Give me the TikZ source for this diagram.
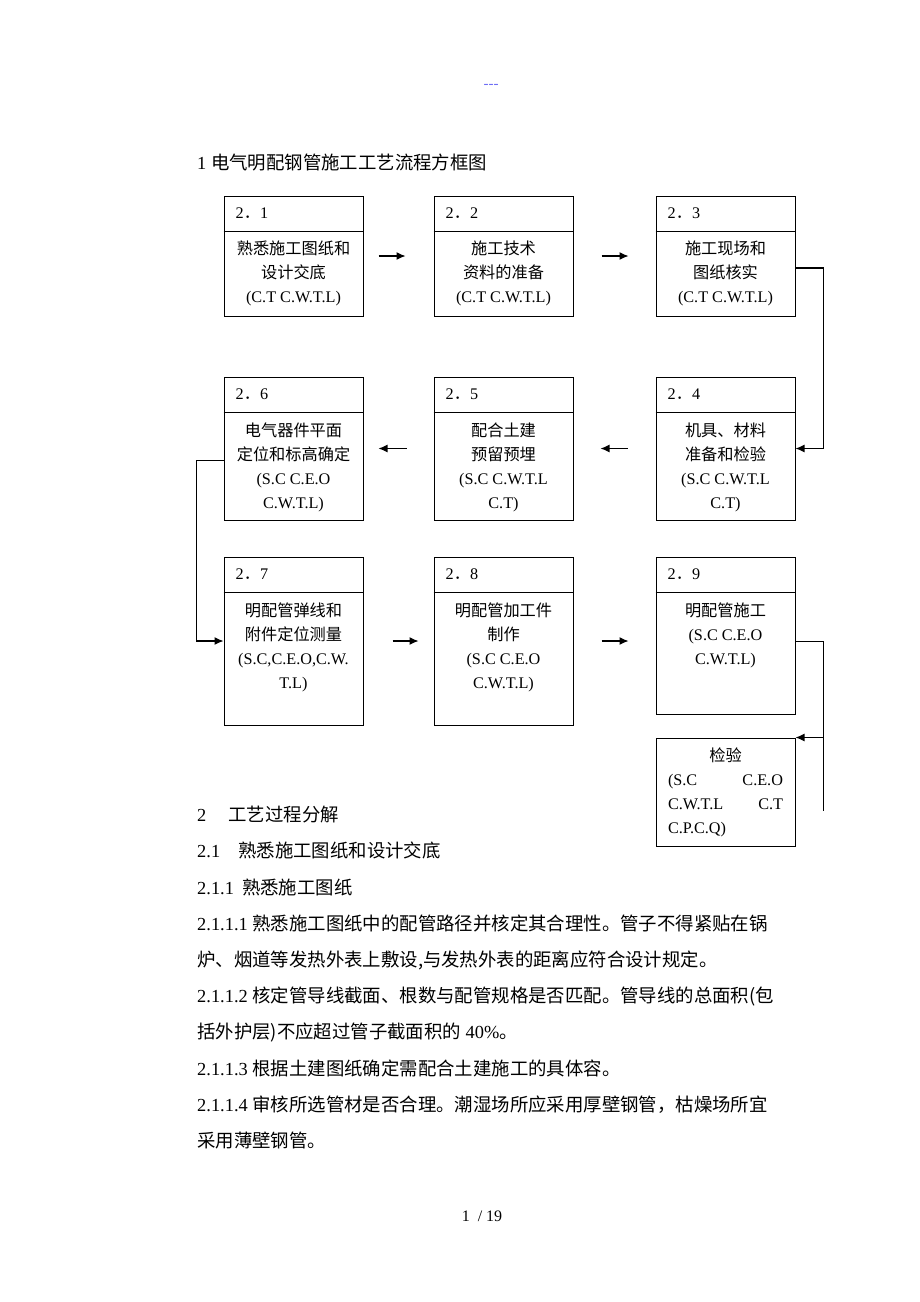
\documentclass[tikz,border=0pt]{standalone}
\usepackage{fontspec}
\setmainfont{Liberation Serif}
\newfontfamily\cjk{Noto Sans CJK SC}
\newcommand{\zh}[1]{{\cjk #1}}
\setlength{\parindent}{0pt}
\usetikzlibrary{arrows.meta}
\definecolor{hdblue}{RGB}{110,110,245}

\tikzset{
  box/.style={draw, line width=1pt, minimum width=139pt, inner sep=0pt},
  hd/.style={anchor=west, inner sep=0pt, font=\fontsize{16.2}{24}\selectfont},
  txt/.style={anchor=north, inner sep=0pt, align=center, font=\fontsize{16.2}{24}\selectfont},
  arr/.style={-{Latex[length=9pt,width=8pt]}, line width=1.2pt},
}

\begin{document}
\begin{tikzpicture}[x=1pt, y=-1pt]
\useasboundingbox (0,0) rectangle (920,1302);

\node[text=hdblue, font=\fontsize{15}{16}\selectfont] (hdr) at (491,86) {-{}-{}-};
\node[anchor=west, inner sep=0pt, font=\fontsize{18.4}{22}\selectfont] (title) at (197,163) {1 \zh{电气明配钢管施工工艺流程方框图}};

% first row
\node[box, minimum height=120pt] (b21) at (293.5,256) {};
\node[box, minimum height=120pt] (b22) at (503.5,256) {};
\node[box, minimum height=120pt] (b23) at (725.5,256) {};
% second row
\node[box, minimum height=143pt] (b26) at (293.5,448.5) {};
\node[box, minimum height=143pt] (b25) at (503.5,448.5) {};
\node[box, minimum height=143pt] (b24) at (725.5,448.5) {};
% third row
\node[box, minimum height=168pt] (b27) at (293.5,641) {};
\node[box, minimum height=168pt] (b28) at (503.5,641) {};
\node[box, minimum height=157pt] (b29) at (725.5,635.5) {};
\node[box, minimum height=108pt] (bjy) at (725.5,792) {};

% header lines
\draw ([yshift=-36pt]b21.north west) -- ([yshift=-36pt]b21.north east);
\draw ([yshift=-36pt]b22.north west) -- ([yshift=-36pt]b22.north east);
\draw ([yshift=-36pt]b23.north west) -- ([yshift=-36pt]b23.north east);
\draw ([yshift=-36pt]b24.north west) -- ([yshift=-36pt]b24.north east);
\draw ([yshift=-36pt]b25.north west) -- ([yshift=-36pt]b25.north east);
\draw ([yshift=-36pt]b26.north west) -- ([yshift=-36pt]b26.north east);
\draw ([yshift=-36pt]b27.north west) -- ([yshift=-36pt]b27.north east);
\draw ([yshift=-36pt]b28.north west) -- ([yshift=-36pt]b28.north east);
\draw ([yshift=-36pt]b29.north west) -- ([yshift=-36pt]b29.north east);

\node[hd] (h21) at ([xshift=12pt,yshift=-18pt]b21.north west) {2\zh{．}1};
\node[hd] (h22) at ([xshift=12pt,yshift=-18pt]b22.north west) {2\zh{．}2};
\node[hd] (h23) at ([xshift=12pt,yshift=-18pt]b23.north west) {2\zh{．}3};
\node[hd] (h24) at ([xshift=12pt,yshift=-18pt]b24.north west) {2\zh{．}4};
\node[hd] (h25) at ([xshift=12pt,yshift=-18pt]b25.north west) {2\zh{．}5};
\node[hd] (h26) at ([xshift=12pt,yshift=-18pt]b26.north west) {2\zh{．}6};
\node[hd] (h27) at ([xshift=12pt,yshift=-18pt]b27.north west) {2\zh{．}7};
\node[hd] (h28) at ([xshift=12pt,yshift=-18pt]b28.north west) {2\zh{．}8};
\node[hd] (h29) at ([xshift=12pt,yshift=-18pt]b29.north west) {2\zh{．}9};

\node[txt] (t21) at ([yshift=-45pt]b21.north) {\zh{熟悉施工图纸和}\\\zh{设计交底}\\(C.T C.W.T.L)};
\node[txt] (t22) at ([yshift=-45pt]b22.north) {\zh{施工技术}\\\zh{资料的准备}\\(C.T C.W.T.L)};
\node[txt] (t23) at ([yshift=-45pt]b23.north) {\zh{施工现场和}\\\zh{图纸核实}\\(C.T C.W.T.L)};
\node[txt] (t26) at ([yshift=-46pt]b26.north) {\zh{电气器件平面}\\\zh{定位和标高确定}\\(S.C C.E.O\\C.W.T.L)};
\node[txt] (t25) at ([yshift=-46pt]b25.north) {\zh{配合土建}\\\zh{预留预埋}\\(S.C C.W.T.L\\C.T)};
\node[txt] (t24) at ([yshift=-46pt]b24.north) {\zh{机具、材料}\\\zh{准备和检验}\\(S.C C.W.T.L\\C.T)};
\node[txt] (t27) at ([yshift=-46pt]b27.north) {\zh{明配管弹线和}\\\zh{附件定位测量}\\(S.C,C.E.O,C.W.\\T.L)};
\node[txt] (t28) at ([yshift=-46pt]b28.north) {\zh{明配管加工件}\\\zh{制作}\\(S.C C.E.O\\C.W.T.L)};
\node[txt] (t29) at ([yshift=-46pt]b29.north) {\zh{明配管施工}\\(S.C C.E.O\\C.W.T.L)};
\node[txt, align=left, text width=115pt] (tjy) at ([yshift=-10pt]bjy.north) {\hfill\zh{检验}\hfill\null\\(S.C\hfill C.E.O\\C.W.T.L\hfill C.T\\C.P.C.Q)};

% arrows
\draw[arr, shorten <=15pt, shorten >=28pt] (b21) -- (b22);
\draw[arr, shorten <=28pt, shorten >=27pt] (b22) -- (b23);
\draw[arr] ([yshift=-12pt]b23.east) -- ++(28,0) |- (b24.east);
\draw[arr, shorten <=28pt, shorten >=27pt] (b24) -- (b25);
\draw[arr, shorten <=27pt, shorten >=15pt] (b25) -- (b26);
\draw[arr] ([yshift=-12pt]b26.west) -- ++(-27,0) |- (b27.west);
\draw[arr, shorten <=29pt, shorten >=15pt] (b27) -- (b28);
\draw[arr, shorten <=28pt, shorten >=27pt] (b28) -- (b28 -| b29.west);
\draw[line width=1.2pt] ([yshift=-6pt]b29.east) -- ++(28,0) coordinate (bend) -- ++(0,169) coordinate (tail);
\draw[arr] (tail |- bjy.north east) -- (bjy.north east);

\node[anchor=north west, inner sep=0pt, align=left, font=\fontsize{18.4}{36.2}\selectfont] (body) at (197,806) {%
2\hspace{22pt}\zh{工艺过程分解}\\
2.1\hspace{18pt}\zh{熟悉施工图纸和设计交底}\\
2.1.1\hspace{8pt}\zh{熟悉施工图纸}\\
2.1.1.1 \zh{熟悉施工图纸中的配管路径并核定其合理性。管子不得紧贴在锅}\\
\zh{炉、烟道等发热外表上敷设,与发热外表的距离应符合设计规定。}\\
2.1.1.2 \zh{核定管导线截面、根数与配管规格是否匹配。管导线的总面积(包}\\
\zh{括外护层)不应超过管子截面积的} 40\%\zh{。}\\
2.1.1.3 \zh{根据土建图纸确定需配合土建施工的具体容。}\\
2.1.1.4 \zh{审核所选管材是否合理。潮湿场所应采用厚壁钢管，枯燥场所宜}\\
\zh{采用薄壁钢管。}};

\node[inner sep=0pt, font=\fontsize{16}{18}\selectfont] (pg) at (482,1216) {1~ / 19};
\end{tikzpicture}
\end{document}
